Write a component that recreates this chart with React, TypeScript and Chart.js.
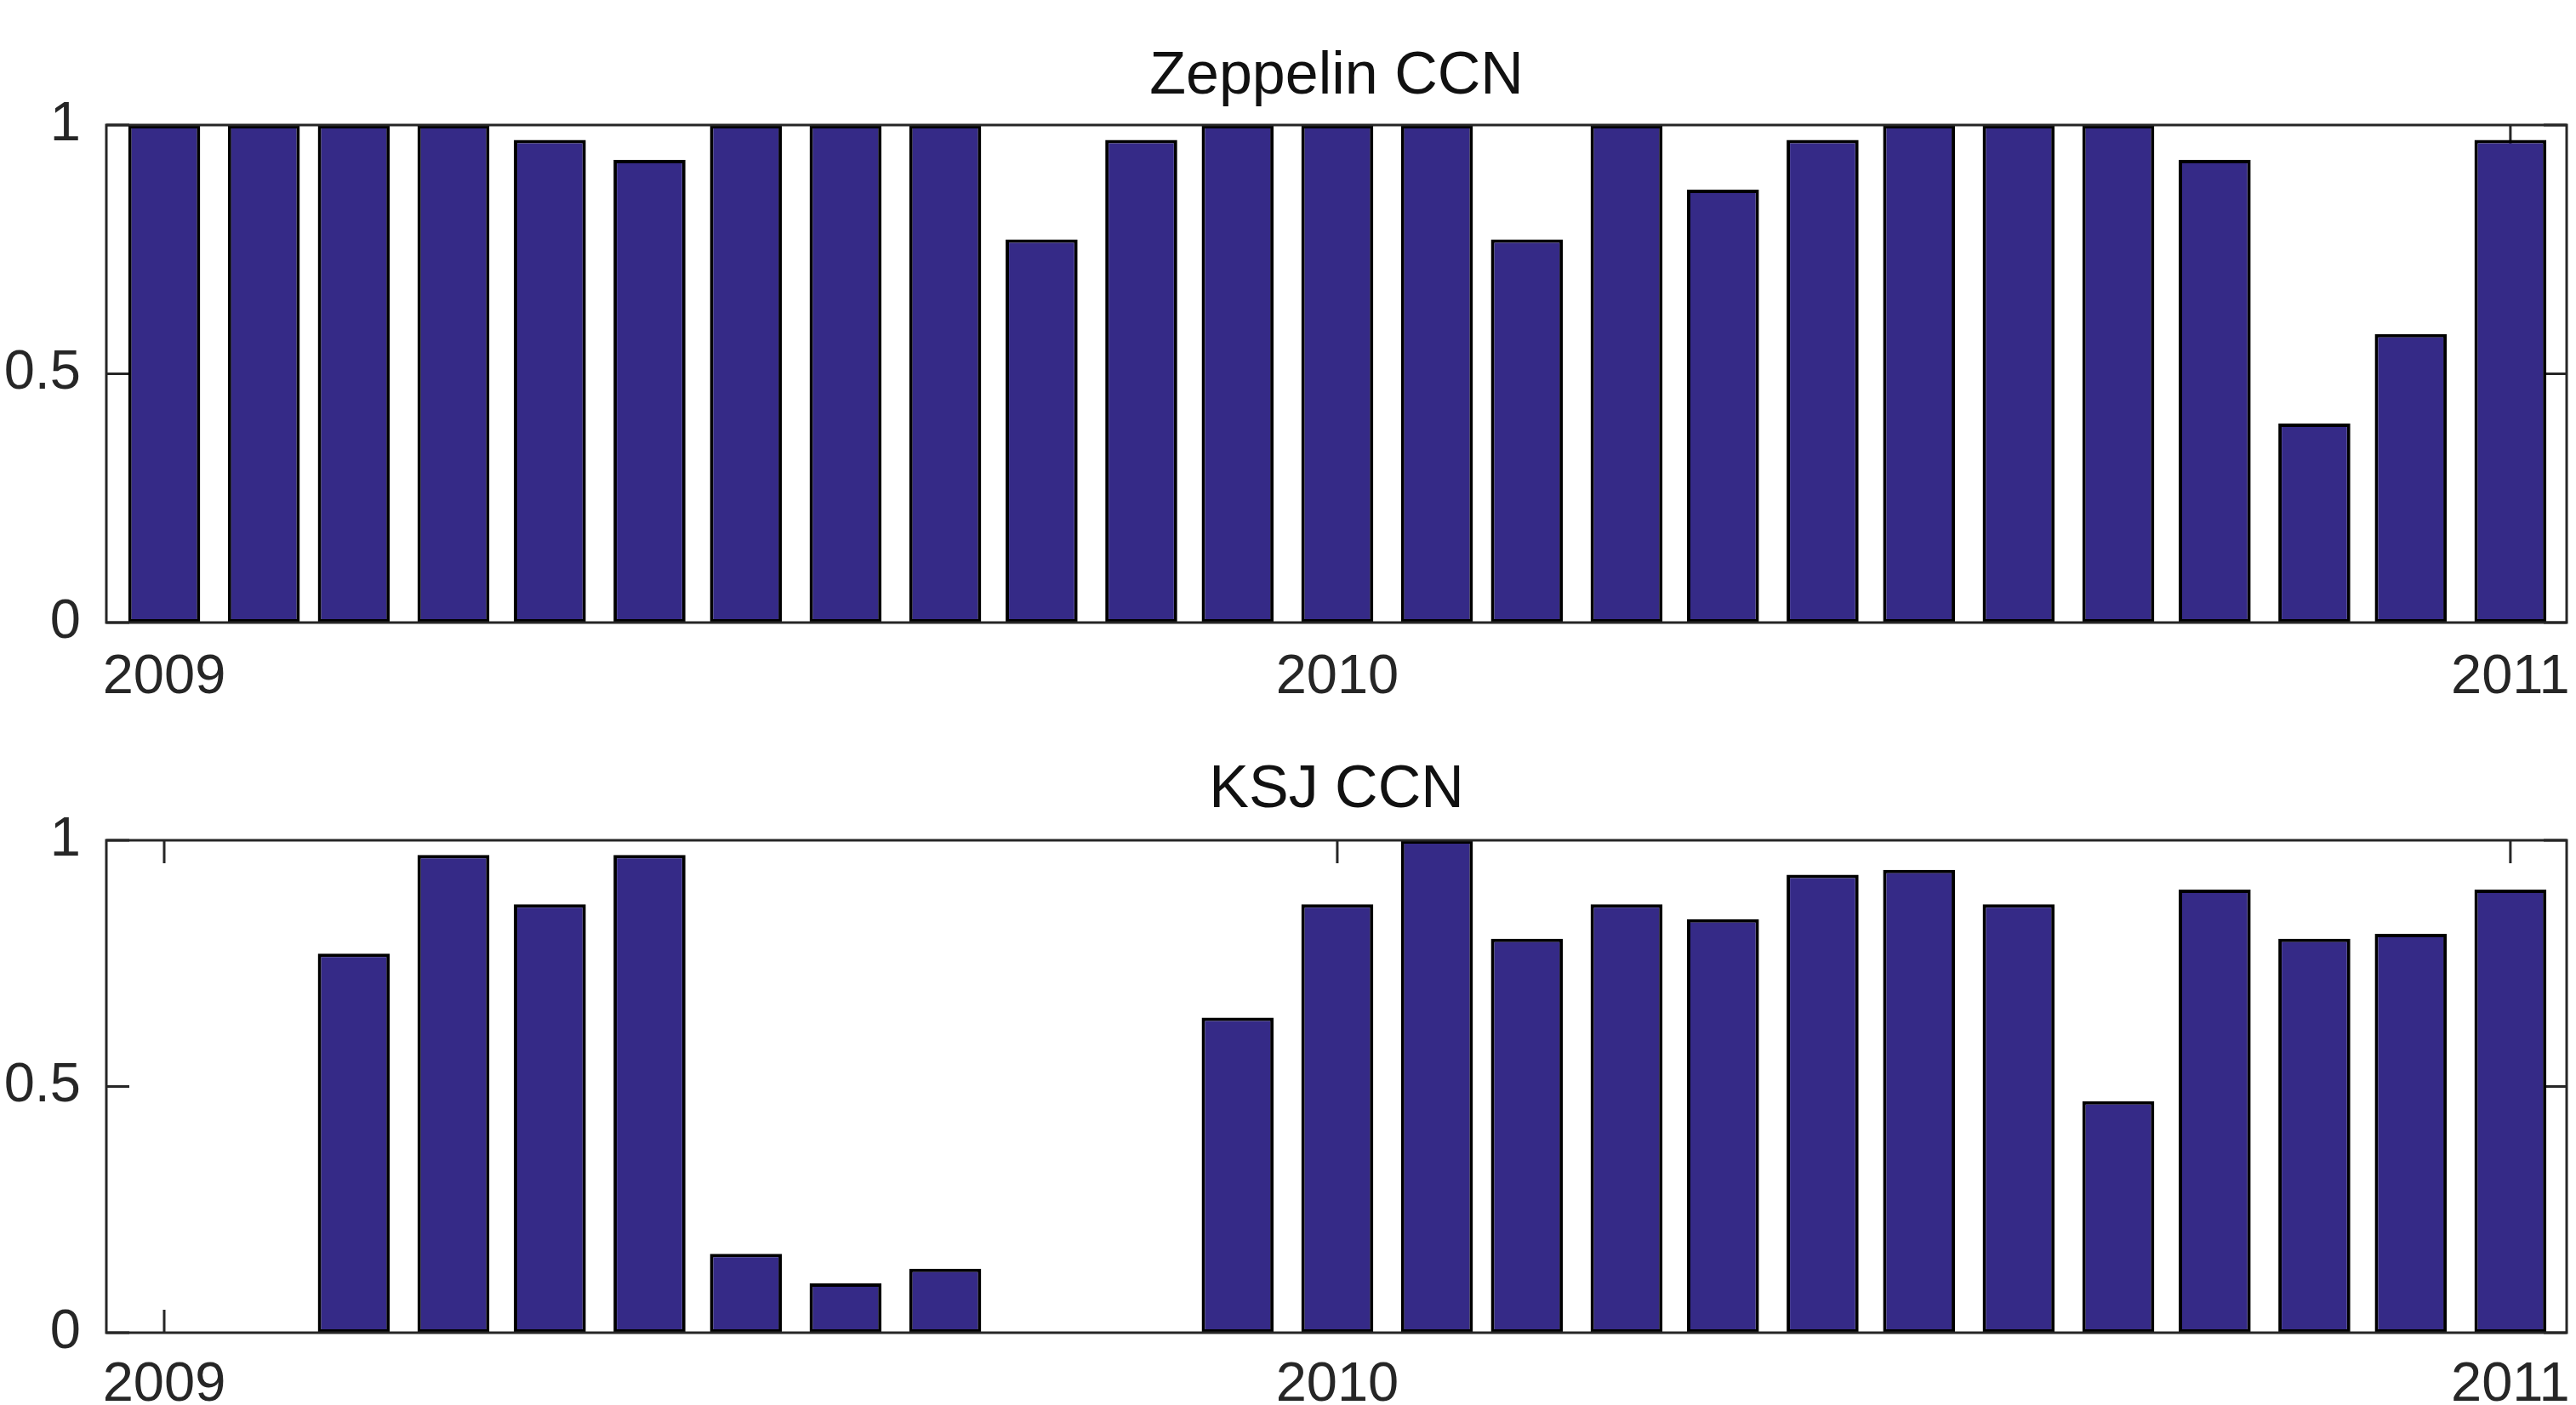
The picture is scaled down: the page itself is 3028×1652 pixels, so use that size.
import React, { useEffect, useRef } from "react";
import { Chart, registerables } from "chart.js";

Chart.register(...registerables);

const months = [
  "2009-01", "2009-02", "2009-03", "2009-04", "2009-05", "2009-06", "2009-07", "2009-08", "2009-09", "2009-10", "2009-11", "2009-12",
  "2010-01", "2010-02", "2010-03", "2010-04", "2010-05", "2010-06", "2010-07", "2010-08", "2010-09", "2010-10", "2010-11", "2010-12",
  "2011-01",
];

const zeppelinValues = [
  1, 1, 1, 1, 0.97, 0.93, 1, 1, 1, 0.77, 0.97, 1,
  1, 1, 0.77, 1, 0.87, 0.97, 1, 1, 1, 0.93, 0.4, 0.58,
  0.97,
];

const ksjValues = [
  0, 0, 0.77, 0.97, 0.87, 0.97, 0.16, 0.1, 0.13, 0, 0, 0.64,
  0.87, 1, 0.8, 0.87, 0.84, 0.93, 0.94, 0.87, 0.47, 0.9, 0.8, 0.81,
  0.9,
];

const xTickYears = ["2009", "2010", "2011"];
const yTickValues = [0, 0.5, 1];
const yTickLabels = ["0", "0.5", "1"];

const titles = ["Zeppelin CCN", "KSJ CCN"];

const DAY = 86400000;
const origin = Date.UTC(2009, 0, 1);
const dayOf = (s: string) => {
  const [y, m] = s.split("-").map(Number);
  return (Date.UTC(y, m - 1, 1) - origin) / DAY;
};
const xTickDays = xTickYears.map((y) => dayOf(y + "-01"));

const FONT = '"Liberation Sans", Arial, Helvetica, sans-serif';
const AXIS_COLOR = "#262626";
const BAR_COLOR = "#352A87";

const matlabAxes = {
  id: "matlabAxes",
  beforeDatasetsDraw(chart: any) {
    const { ctx, chartArea: a, scales } = chart;
    const len = 27;
    ctx.save();
    ctx.strokeStyle = AXIS_COLOR;
    ctx.lineWidth = 3;
    ctx.beginPath();
    scales.x.ticks.forEach((t: any) => {
      const px = scales.x.getPixelForValue(t.value);
      ctx.moveTo(px, a.bottom);
      ctx.lineTo(px, a.bottom - len);
      ctx.moveTo(px, a.top);
      ctx.lineTo(px, a.top + len);
    });
    scales.y.ticks.forEach((t: any) => {
      const py = scales.y.getPixelForValue(t.value);
      ctx.moveTo(a.left, py);
      ctx.lineTo(a.left + len, py);
      ctx.moveTo(a.right, py);
      ctx.lineTo(a.right - len, py);
    });
    ctx.stroke();
    ctx.restore();
  },
  afterDraw(chart: any) {
    const { ctx, chartArea: a } = chart;
    const opts = chart.options.plugins.matlabAxes || {};
    ctx.save();
    ctx.strokeStyle = AXIS_COLOR;
    ctx.lineWidth = 3;
    ctx.strokeRect(a.left, a.top, a.right - a.left, a.bottom - a.top);
    if (opts.title) {
      ctx.fillStyle = "#111111";
      ctx.font = `70px ${FONT}`;
      ctx.textAlign = "center";
      ctx.textBaseline = "middle";
      ctx.fillText(opts.title, (a.left + a.right) / 2, opts.titleY);
    }
    ctx.restore();
  },
};

function makeConfig(values: number[], title: string, titleY: number, padTop: number, xHeight: number, tickPad: number): any {
  return {
    type: "bar",
    data: {
      datasets: [
        {
          data: months.map((m, i) => ({ x: dayOf(m), y: values[i] })),
          backgroundColor: BAR_COLOR,
          borderColor: "#000000",
          borderWidth: 4,
          borderSkipped: false,
          categoryPercentage: 1,
          barPercentage: 0.8,
        },
      ],
    },
    plugins: [matlabAxes],
    options: {
      animation: false,
      responsive: false,
      maintainAspectRatio: false,
      devicePixelRatio: 1,
      layout: { padding: { top: padTop, right: 11, left: 0, bottom: 0 } },
      plugins: {
        legend: { display: false },
        tooltip: { enabled: false },
        title: { display: false },
        matlabAxes: { title, titleY },
      },
      scales: {
        x: {
          type: "linear",
          offset: false,
          min: -18,
          max: 747.5,
          grid: { display: false, drawTicks: false, offset: false },
          border: { display: false },
          afterBuildTicks: (s: any) => {
            s.ticks = xTickDays.map((v) => ({ value: v }));
          },
          afterFit: (s: any) => {
            s.height = xHeight;
            s.paddingLeft = 0;
            s.paddingRight = 0;
          },
          ticks: {
            autoSkip: false,
            maxRotation: 0,
            padding: tickPad,
            color: AXIS_COLOR,
            font: { family: FONT, size: 65 },
            callback: (v: number) => {
              const i = xTickDays.indexOf(v);
              return i >= 0 ? xTickYears[i] : "";
            },
          },
        },
        y: {
          type: "linear",
          min: 0,
          max: 1,
          grid: { display: false, drawTicks: false },
          border: { display: false },
          afterBuildTicks: (s: any) => {
            s.ticks = yTickValues.map((v) => ({ value: v }));
          },
          afterFit: (s: any) => {
            s.width = 125;
          },
          ticks: {
            padding: 30,
            color: AXIS_COLOR,
            font: { family: FONT, size: 65 },
            callback: (v: number) => {
              const i = yTickValues.indexOf(v);
              return i >= 0 ? yTickLabels[i] : "";
            },
          },
        },
      },
    },
  };
}

export default function App() {
  const ref1 = useRef<HTMLCanvasElement>(null);
  const ref2 = useRef<HTMLCanvasElement>(null);

  useEffect(() => {
    const c1 = new Chart(ref1.current as HTMLCanvasElement, makeConfig(zeppelinValues, titles[0], 91, 147, 128, 26));
    const c2 = new Chart(ref2.current as HTMLCanvasElement, makeConfig(ksjValues, titles[1], 70, 128, 85, 23));
    return () => {
      c1.destroy();
      c2.destroy();
    };
  }, []);

  return (
    <div style={{ position: "absolute", left: 0, top: 0, width: 3028, height: 1652, background: "#ffffff", overflow: "hidden" }}>
      <canvas ref={ref1} width={3028} height={860} style={{ position: "absolute", left: 0, top: 0, width: 3028, height: 860 }} />
      <canvas ref={ref2} width={3028} height={792} style={{ position: "absolute", left: 0, top: 860, width: 3028, height: 792 }} />
    </div>
  );
}
